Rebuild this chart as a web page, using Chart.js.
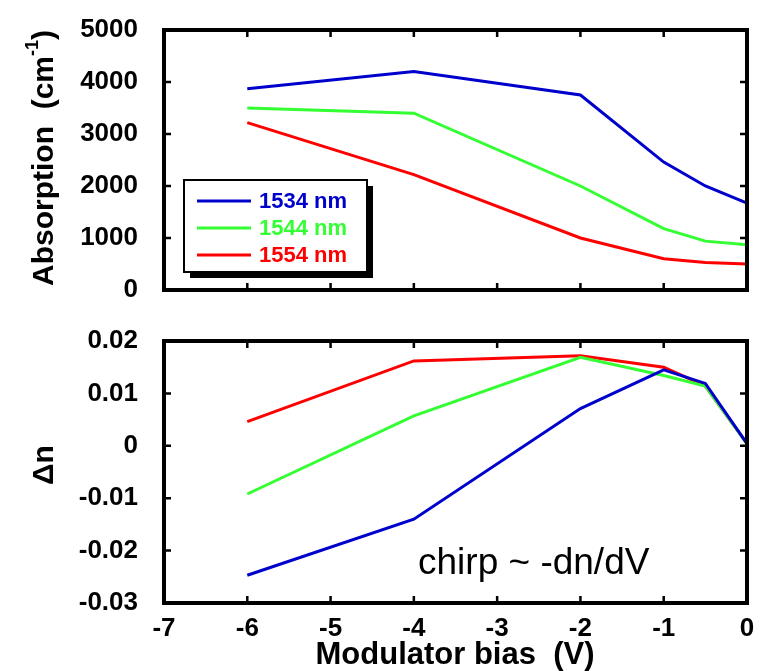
<!DOCTYPE html>
<html>
<head>
<meta charset="utf-8">
<script src="https://cdn.jsdelivr.net/npm/chart.js@4/dist/chart.umd.min.js"></script>
<style>
  html, body { margin: 0; padding: 0; background: #fff; }
  #wrap { position: relative; width: 766px; height: 671px; }
  canvas { position: absolute; left: 0; }
</style>
</head>
<body>
<div id="wrap">
  <canvas id="absChart" width="766" height="316" style="top:0"></canvas>
  <canvas id="dnChart" width="766" height="355" style="top:316px"></canvas>
</div>
<script>
// modulator bias points (V)
var bias = [-6, -4, -2, -1, -0.5, 0];
var wavelengths = ['1534 nm', '1544 nm', '1554 nm'];
var lineColors = ['#0000cc', '#33ff33', '#ff0000'];

// absorption (cm^-1)
var abs1534 = [3870, 4200, 3750, 2460, 2000, 1670];
var abs1544 = [3500, 3400, 2000, 1180, 940, 870];
var abs1554 = [3220, 2220, 1000, 600, 530, 500];

// index change
var dn1534 = [-0.0247, -0.0140, 0.0071, 0.0145, 0.0119, 0.0004];
var dn1544 = [-0.0092, 0.0057, 0.0169, 0.0134, 0.0114, 0.0004];
var dn1554 = [0.0046, 0.0162, 0.0172, 0.0150, 0.0114, 0.0004];

var absTicks = [0, 1000, 2000, 3000, 4000, 5000];
var dnTicks = [-0.03, -0.02, -0.01, 0, 0.01, 0.02];
var biasTicks = [-7, -6, -5, -4, -3, -2, -1, 0];

var FONT = "'Liberation Sans', Arial, Helvetica, sans-serif";

function makeSets(series) {
    return series.map(function (vals, i) {
        return {
            label: wavelengths[i],
            data: bias.map(function (b, j) { return { x: b, y: vals[j] }; }),
            borderColor: lineColors[i],
            backgroundColor: lineColors[i],
            borderWidth: 3,
            pointRadius: 0,
            tension: 0,
            clip: 4
        };
    });
}

function fixedTicks(list) {
    return function (scale) {
        scale.ticks = list.map(function (v) { return { value: v }; });
    };
}

// force the axis box size and drop the label overhang padding
function fixSize(w, h) {
    return function (s) {
        if (w !== null) s.width = w;
        if (h !== null) s.height = h;
        s.paddingTop = 0; s.paddingBottom = 0;
        s.paddingLeft = 0; s.paddingRight = 0;
    };
}

function plainNum(v) { return String(Number(v.toFixed(2))); }

// black frame with inward tick marks on all four sides
var framePlugin = {
    id: 'frame',
    afterDatasetsDraw: function (chart) {
        var ctx = chart.ctx, a = chart.chartArea;
        var xs = chart.scales.x, ys = chart.scales.y;
        ctx.save();
        ctx.strokeStyle = '#000';
        ctx.lineWidth = 2.5;
        ctx.beginPath();
        xs.ticks.forEach(function (t) {
            var px = xs.getPixelForValue(t.value);
            ctx.moveTo(px, a.top); ctx.lineTo(px, a.top + 7);
            ctx.moveTo(px, a.bottom); ctx.lineTo(px, a.bottom - 7);
        });
        ys.ticks.forEach(function (t) {
            var py = ys.getPixelForValue(t.value);
            ctx.moveTo(a.left, py); ctx.lineTo(a.left + 7, py);
            ctx.moveTo(a.right, py); ctx.lineTo(a.right - 7, py);
        });
        ctx.stroke();
        ctx.lineWidth = 4;
        ctx.strokeRect(a.left, a.top, a.right - a.left, a.bottom - a.top);
        ctx.restore();
    }
};

// axis titles (the absorption one carries a superscript)
var titlePlugin = {
    id: 'titles',
    afterDraw: function (chart, args, opts) {
        var ctx = chart.ctx;
        (opts.items || []).forEach(function (it) {
            ctx.save();
            ctx.fillStyle = '#000';
            ctx.textBaseline = 'middle';
            ctx.translate(it.x, it.y);
            if (it.rotate) ctx.rotate(-Math.PI / 2);
            var parts = it.parts;
            var widths = parts.map(function (p) {
                ctx.font = 'bold ' + p.size + 'px ' + FONT;
                return ctx.measureText(p.text).width;
            });
            var total = widths.reduce(function (s, w) { return s + w; }, 0);
            var cx = -total / 2;
            parts.forEach(function (p, i) {
                ctx.font = 'bold ' + p.size + 'px ' + FONT;
                ctx.textAlign = 'left';
                ctx.fillText(p.text, cx, p.rise ? -p.rise : 0);
                cx += widths[i];
            });
            ctx.restore();
        });
    }
};

// boxed legend with a drop shadow, placed inside the plot
var boxLegend = {
    id: 'boxLegend',
    afterDatasetsDraw: function (chart, args, opts) {
        if (!opts.box) return;
        var ctx = chart.ctx, b = opts.box;
        ctx.save();
        ctx.fillStyle = '#000';
        ctx.fillRect(b.x + 6, b.y + 6, b.w, b.h);
        ctx.fillStyle = '#fff';
        ctx.fillRect(b.x, b.y, b.w, b.h);
        ctx.strokeStyle = '#000';
        ctx.lineWidth = 2;
        ctx.strokeRect(b.x, b.y, b.w, b.h);
        ctx.font = 'bold 22px ' + FONT;
        ctx.textBaseline = 'middle';
        chart.data.datasets.forEach(function (ds, i) {
            var y = b.y + 21 + i * 27;
            ctx.strokeStyle = ds.borderColor;
            ctx.lineWidth = 3;
            ctx.beginPath();
            ctx.moveTo(b.x + 13, y); ctx.lineTo(b.x + 67, y);
            ctx.stroke();
            ctx.fillStyle = ds.borderColor;
            ctx.fillText(ds.label, b.x + 75, y + 1);
        });
        ctx.restore();
    }
};

// text note drawn at a data position
var notePlugin = {
    id: 'note',
    afterDatasetsDraw: function (chart, args, opts) {
        if (!opts.text) return;
        var ctx = chart.ctx;
        ctx.save();
        ctx.fillStyle = '#000';
        ctx.font = opts.size + 'px ' + FONT;
        ctx.textBaseline = 'middle';
        ctx.textAlign = 'left';
        ctx.fillText(opts.text, chart.scales.x.getPixelForValue(opts.x), chart.scales.y.getPixelForValue(opts.y));
        ctx.restore();
    }
};

Chart.register(framePlugin, titlePlugin, boxLegend, notePlugin);

var tickFont = { family: FONT, size: 26, weight: 'bold' };

// upper panel: absorption
var absCtx = document.getElementById('absChart').getContext('2d');
var absChart = new Chart(absCtx, {
    type: 'line',
    data: { datasets: makeSets([abs1534, abs1544, abs1554]) },
    options: {
        responsive: false,
        animation: false,
        layout: { padding: { top: 30, right: 19, bottom: 26, left: 0 } },
        scales: {
            x: {
                type: 'linear', min: -7, max: 0,
                afterBuildTicks: fixedTicks(biasTicks),
                afterFit: fixSize(null, 0),
                ticks: { display: false },
                grid: { display: false },
                border: { display: false }
            },
            y: {
                min: 0, max: 5000,
                afterBuildTicks: fixedTicks(absTicks),
                afterFit: fixSize(164, null),
                ticks: { font: tickFont, color: '#000', padding: 26, callback: plainNum },
                grid: { display: false, drawTicks: false },
                border: { display: false }
            }
        },
        plugins: {
            legend: { display: false },
            tooltip: { enabled: false },
            boxLegend: { box: { x: 184, y: 180, w: 183, h: 92 } },
            titles: {
                items: [{
                    x: 45, y: 158, rotate: true,
                    parts: [
                        { text: 'Absorption  (cm', size: 30 },
                        { text: '-1', size: 18, rise: 12 },
                        { text: ')', size: 30 }
                    ]
                }]
            }
        }
    }
});

// lower panel: index change
var dnCtx = document.getElementById('dnChart').getContext('2d');
var dnChart = new Chart(dnCtx, {
    type: 'line',
    data: { datasets: makeSets([dn1534, dn1544, dn1554]) },
    options: {
        responsive: false,
        animation: false,
        layout: { padding: { top: 25, right: 19, bottom: 0, left: 0 } },
        scales: {
            x: {
                type: 'linear', min: -7, max: 0,
                afterBuildTicks: fixedTicks(biasTicks),
                afterFit: fixSize(null, 68),
                ticks: { font: tickFont, color: '#000', padding: 10, maxRotation: 0, callback: plainNum },
                grid: { display: false, drawTicks: false },
                border: { display: false }
            },
            y: {
                min: -0.03, max: 0.02,
                afterBuildTicks: fixedTicks(dnTicks),
                afterFit: fixSize(164, null),
                ticks: { font: tickFont, color: '#000', padding: 26, callback: plainNum },
                grid: { display: false, drawTicks: false },
                border: { display: false }
            }
        },
        plugins: {
            legend: { display: false },
            tooltip: { enabled: false },
            note: { text: 'chirp ~ -dn/dV', x: -3.95, y: -0.0225, size: 37 },
            titles: {
                items: [
                    { x: 45, y: 149, rotate: true, parts: [{ text: 'Δn', size: 30 }] },
                    { x: 455, y: 339, rotate: false, parts: [{ text: 'Modulator bias  (V)', size: 31 }] }
                ]
            }
        }
    }
});
</script>
</body>
</html>
